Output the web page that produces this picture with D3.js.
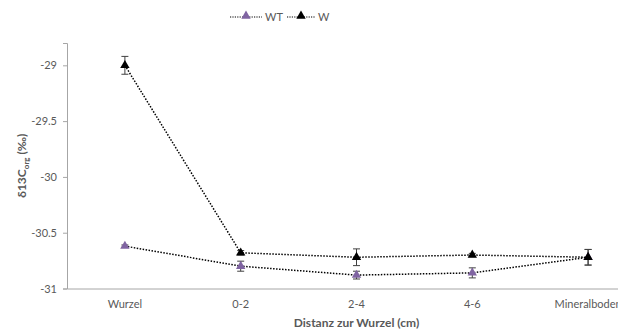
<!DOCTYPE html>
<html>
<head>
<meta charset="utf-8">
<script src="https://cdn.jsdelivr.net/npm/d3@7"></script>
<style>
  html, body { margin: 0; padding: 0; background: #fff; }
  svg { display: block; }
  text { font-family: Lato, "Open Sans", "Liberation Sans", sans-serif; }
</style>
</head>
<body>
<svg id="chart" width="618" height="332"></svg>
<script>
// Sampling positions (distance from the root)
const categories = ["Wurzel", "0-2", "2-4", "4-6", "Mineralboden"];

// δ13C of organic carbon (‰), means and error
const seriesNames = ["WT", "W"];
const valuesWT = [-30.62, -30.80, -30.88, -30.86, -30.72];
const errorsWT = [0.01, 0.045, 0.035, 0.045, 0.07];
const valuesW  = [-29.00, -30.68, -30.72, -30.70, -30.72];
const errorsW  = [0.08, 0.02, 0.075, 0.015, 0.07];

const yTicks = [-29, -29.5, -30, -30.5, -31];
const yDomain = [-31, -28.8];

const colors = { WT: "#8064A2", W: "#000000" };

const svg = d3.select("#chart");
const plot = { left: 67, right: 646, top: 43, bottom: 288.5 };

const x = d3.scaleBand().domain(categories).range([plot.left, plot.right]);
const y = d3.scaleLinear().domain(yDomain).range([plot.bottom, plot.top]);
const cx = c => x(c) + x.bandwidth() / 2;

const textColor = "#595959";
const axisColor = "#a6a6a6";

// Y axis
const yAxis = svg.append("g")
  .attr("transform", `translate(${plot.left},0)`)
  .call(d3.axisLeft(y).tickValues(yTicks).tickSize(4).tickPadding(6)
    .tickFormat(d => String(d)));
yAxis.select(".domain").attr("stroke", axisColor).attr("stroke-width", 1);
yAxis.selectAll(".tick line").attr("stroke", axisColor);
yAxis.selectAll(".tick text").attr("fill", textColor).style("font-size", "11px")
  .style("font-family", "Lato, 'Open Sans', sans-serif");

// X axis
const xAxis = svg.append("g")
  .attr("transform", `translate(0,${plot.bottom})`)
  .call(d3.axisBottom(x).tickSize(0).tickPadding(12).tickSizeOuter(0));
xAxis.select(".domain").attr("stroke", axisColor).attr("stroke-width", 1);
xAxis.selectAll(".tick text").attr("fill", textColor).style("font-size", "11px")
  .style("font-family", "Lato, 'Open Sans', sans-serif");

// Axis titles
svg.append("text")
  .attr("x", (plot.left + plot.right) / 2).attr("y", 327)
  .attr("text-anchor", "middle").attr("fill", textColor)
  .style("font-size", "12px").style("font-weight", "bold")
  .text("Distanz zur Wurzel (cm)");

const yt = svg.append("text")
  .attr("transform", `translate(26,${(plot.top + plot.bottom) / 2}) rotate(-90)`)
  .attr("text-anchor", "middle").attr("fill", textColor)
  .style("font-size", "12px").style("font-weight", "bold");
yt.append("tspan").text("δ13C");
yt.append("tspan").attr("dy", 3).style("font-size", "8px").text("org");
yt.append("tspan").attr("dy", -3).text(" (‰)");

const tri = d3.symbol().type(d3.symbolTriangle).size(38);

function drawSeries(name, vals, errs) {
  const pts = categories.map((c, i) => ({ c, v: vals[i], e: errs[i] }));
  const g = svg.append("g");
  g.append("path")
    .datum(pts)
    .attr("fill", "none").attr("stroke", "#000").attr("stroke-width", 1.5)
    .attr("stroke-dasharray", "1.5,1.5")
    .attr("d", d3.line().x(d => cx(d.c)).y(d => y(d.v)));
  // error bars
  const eb = g.selectAll(".eb").data(pts).enter().append("g").attr("class", "eb")
    .attr("stroke", "#404040").attr("stroke-width", 1);
  eb.append("line").attr("x1", d => cx(d.c)).attr("x2", d => cx(d.c))
    .attr("y1", d => y(d.v + d.e)).attr("y2", d => y(d.v - d.e));
  eb.append("line").attr("x1", d => cx(d.c) - 3.5).attr("x2", d => cx(d.c) + 3.5)
    .attr("y1", d => y(d.v + d.e)).attr("y2", d => y(d.v + d.e));
  eb.append("line").attr("x1", d => cx(d.c) - 3.5).attr("x2", d => cx(d.c) + 3.5)
    .attr("y1", d => y(d.v - d.e)).attr("y2", d => y(d.v - d.e));
  g.selectAll(".m").data(pts).enter().append("path")
    .attr("d", tri).attr("fill", colors[name])
    .attr("transform", d => `translate(${cx(d.c)},${y(d.v)})`);
}

drawSeries("WT", valuesWT, errorsWT);
drawSeries("W", valuesW, errorsW);

// Legend
const legend = svg.append("g").attr("transform", "translate(230,17)");
const legendItems = [
  { name: "WT", x0: 0, w: 32 },
  { name: "W", x0: 57, w: 28 }
];
legendItems.forEach(it => {
  const lg = legend.append("g").attr("transform", `translate(${it.x0},0)`);
  lg.append("line").attr("x1", 0).attr("x2", it.w).attr("y1", 0).attr("y2", 0)
    .attr("stroke", "#000").attr("stroke-width", 1.2).attr("stroke-dasharray", "1.2,1.2");
  lg.append("path").attr("d", tri).attr("fill", colors[it.name])
    .attr("transform", `translate(${it.w / 2},-1)`);
  lg.append("text").attr("x", it.w + 3).attr("y", 4).attr("fill", textColor)
    .style("font-size", "11px").text(it.name);
});
</script>
</body>
</html>
